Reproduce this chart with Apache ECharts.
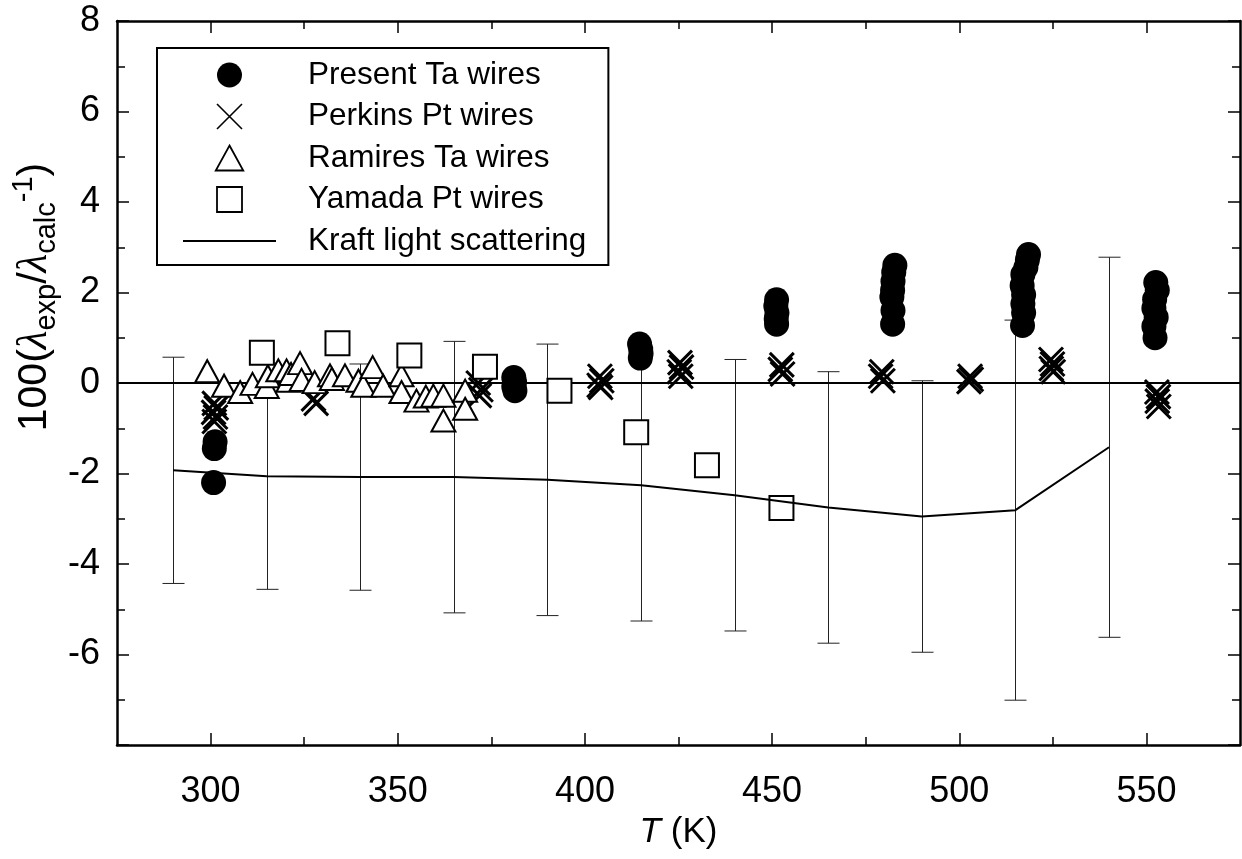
<!DOCTYPE html>
<html>
<head>
<meta charset="utf-8">
<script src="https://cdn.jsdelivr.net/npm/echarts@6/dist/echarts.min.js"></script>
<style>
  html, body { margin: 0; padding: 0; background: #fff; }
  #chart { width: 1242px; height: 859px; }
</style>
</head>
<body>
<div id="chart"></div>
<script>
// Axis ranges and tick positions
const xMin = 275, xMax = 575;
const yMin = -8, yMax = 8;
const xMajorTicks = [300, 350, 400, 450, 500, 550];
const xMinorTicks = [325, 375, 425, 475, 525];
const yLabelValues = [-6, -4, -2, 0, 2, 4, 6, 8];
const zeroLine = [[xMin, 0], [xMax, 0]];

// Present Ta wires: [T (K), deviation %]
const presentTa = [
  [300.8, -2.2], [301.0, -1.45], [301.2, -1.3],
  [381.0, 0.12], [381.2, 0.02], [381.0, -0.08], [381.3, -0.17],
  [414.6, 0.86], [414.9, 0.75], [415.0, 0.65], [414.8, 0.55],
  [451.2, 1.84], [451.0, 1.7], [451.3, 1.55], [451.1, 1.42], [451.2, 1.3],
  [482.8, 2.6], [482.5, 2.45], [482.3, 2.25], [482.2, 2.05], [482.0, 1.9], [482.3, 1.6], [482.2, 1.3],
  [518.5, 2.84], [518.2, 2.72], [517.8, 2.55], [517.0, 2.4], [516.8, 2.15], [517.2, 1.95],
  [517.0, 1.75], [517.2, 1.55], [516.9, 1.27],
  [552.5, 2.22], [552.9, 2.05], [552.2, 1.85], [552.0, 1.65], [552.6, 1.45], [552.0, 1.25], [552.3, 1.0]
];

// Perkins Pt wires
const perkinsPt = [
  [301.0, -0.45], [301.5, -0.55], [300.8, -0.65], [301.3, -0.75], [301.0, -0.85],
  [327.5, -0.35], [328.2, -0.45],
  [371.5, 0.0], [372.2, -0.15], [371.8, -0.28],
  [404.0, 0.15], [404.5, 0.05], [403.8, -0.05], [404.2, -0.1],
  [425.4, 0.45], [425.8, 0.35], [425.2, 0.25], [425.6, 0.15],
  [452.6, 0.4], [452.2, 0.3], [452.8, 0.2],
  [479.3, 0.25], [479.0, 0.15], [479.6, 0.05],
  [502.9, 0.15], [503.2, 0.08], [502.6, 0.03],
  [524.5, 0.52], [524.9, 0.42], [524.6, 0.32], [525.1, 0.25],
  [552.8, -0.2], [553.2, -0.3], [552.9, -0.4], [553.3, -0.52]
];

// Ramires Ta wires
const ramiresTa = [
  [299.1, 0.26], [303.6, -0.06], [307.9, -0.2], [311.2, -0.02], [315.0, -0.09],
  [315.3, 0.15], [318.1, 0.28], [320.3, 0.28], [320.8, 0.05], [321.5, 0.2],
  [323.9, 0.44], [324.3, 0.07], [327.8, 0.02], [331.9, 0.17], [332.4, 0.09],
  [335.9, 0.17], [339.5, 0.05], [340.8, -0.06], [343.3, 0.35], [346.1, -0.06],
  [351.0, 0.17], [351.0, -0.2], [355.0, -0.39], [357.5, -0.3], [359.5, -0.28],
  [362.2, -0.28], [362.2, -0.83], [368.0, -0.17], [368.0, -0.57]
];

// Yamada Pt wires
const yamadaPt = [
  [313.7, 0.67], [333.9, 0.88], [353.1, 0.61], [373.3, 0.36],
  [393.2, -0.17], [413.7, -1.09], [432.6, -1.82], [452.5, -2.76]
];

// Kraft light scattering: temperatures, deviation and uncertainty half-width
const kraftT = [290, 315, 340, 365, 390, 415, 440, 465, 490, 515, 540];
const kraftV = [-1.93, -2.06, -2.08, -2.08, -2.14, -2.26, -2.48, -2.75, -2.95, -2.81, -1.42];
const kraftErr = [2.5, 2.5, 2.5, 3.0, 3.0, 3.0, 3.0, 3.0, 3.0, 4.2, 4.2];

const FONT = '"Liberation Sans", Arial, Helvetica, sans-serif';
const SERIF = '"Liberation Serif", "DejaVu Serif", serif';
const BLACK = '#000';
// Marker outlines
const CROSS = 'path://M0,0L20,20M20,0L0,20';
const TRIANGLE = 'path://M11,0L22,20L0,20Z';
const SQUARE = 'path://M0,0L20,0L20,20L0,20Z';

const axisLine = { show: true, onZero: false, lineStyle: { color: BLACK, width: 2.5 } };
const tickLine = { color: BLACK, width: 1.5 };

function xAxisDef(position, ticks, len, showLine, withLabels) {
  const ax = {
    type: 'value', min: xMin, max: xMax, position: position,
    axisLine: showLine ? axisLine : { show: false, onZero: false },
    axisTick: { show: true, inside: true, length: len, customValues: ticks, lineStyle: tickLine },
    axisLabel: withLabels
      ? { show: true, customValues: ticks, margin: 29, fontSize: 36, color: BLACK, fontFamily: FONT }
      : { show: false },
    splitLine: { show: false }
  };
  if (withLabels) {
    ax.name = '{it|T} (K)';
    ax.nameLocation = 'middle';
    ax.nameGap = 66;
    ax.nameTextStyle = {
      fontSize: 35, color: BLACK, fontFamily: FONT,
      rich: { it: { fontSize: 35, fontStyle: 'italic', color: BLACK, fontFamily: FONT } }
    };
  }
  return ax;
}

function yAxisDef(position, withLabels) {
  return {
    type: 'value', min: yMin, max: yMax, interval: 2, position: position,
    axisLine: axisLine,
    axisTick: { show: true, inside: true, length: 12, lineStyle: tickLine },
    minorTick: { show: true, splitNumber: 2, length: 8, lineStyle: tickLine },
    axisLabel: withLabels
      ? { show: true, customValues: yLabelValues, margin: 17, fontSize: 36, color: BLACK, fontFamily: FONT }
      : { show: false },
    splitLine: { show: false },
    minorSplitLine: { show: false }
  };
}

const chart = echarts.init(document.getElementById('chart'), null, { renderer: 'canvas' });

chart.setOption({
  backgroundColor: '#fff',
  animation: false,
  grid: { left: 117, top: 21, width: 1123, height: 724, containLabel: false },
  xAxis: [
    xAxisDef('bottom', xMajorTicks, 12, true, true),
    xAxisDef('bottom', xMinorTicks, 8, false, false),
    xAxisDef('top', xMajorTicks, 12, true, false),
    xAxisDef('top', xMinorTicks, 8, false, false)
  ],
  yAxis: [
    yAxisDef('left', true),
    yAxisDef('right', false)
  ],
  // Y-axis title, rotated to read bottom to top
  graphic: [{
    type: 'text',
    x: 35, y: 297,
    rotation: Math.PI / 2,
    silent: true,
    style: {
      text: '100({l|λ}{sub|exp}/{l|λ}{sub|calc}{sup|-1})',
      align: 'center',
      verticalAlign: 'middle',
      fill: BLACK,
      fontSize: 41,
      fontFamily: FONT,
      lineHeight: 52,
      rich: {
        l: { fontSize: 43, fontFamily: SERIF, fontStyle: 'italic', fill: BLACK, lineHeight: 52, verticalAlign: 'middle' },
        sub: { fontSize: 29, fontFamily: FONT, fill: BLACK, lineHeight: 29, verticalAlign: 'bottom' },
        sup: { fontSize: 29, fontFamily: FONT, fill: BLACK, lineHeight: 29, verticalAlign: 'top' }
      }
    }
  }],
  legend: {
    orient: 'vertical',
    left: 157, top: 48,
    padding: [11, 22, 8, 25],
    borderColor: BLACK, borderWidth: 2,
    backgroundColor: '#fff',
    itemWidth: 93, itemHeight: 25, itemGap: 9.5,
    selectedMode: false,
    textStyle: { fontSize: 31.5, lineHeight: 31, color: BLACK, fontFamily: FONT, padding: [0, 0, 0, 27] },
    data: [
      { name: 'Present Ta wires' },
      { name: 'Perkins Pt wires', itemStyle: { borderWidth: 1.6 } },
      { name: 'Ramires Ta wires', itemStyle: { borderWidth: 1.8 } },
      { name: 'Yamada Pt wires', itemStyle: { borderWidth: 1.8 } },
      { name: 'Kraft light scattering', itemStyle: { color: 'rgba(0,0,0,0)', borderWidth: 0 }, lineStyle: { color: BLACK, width: 2 } }
    ]
  },
  series: [
    {
      name: 'Kraft uncertainty',
      type: 'custom',
      z: 1,
      silent: true,
      data: kraftT.map((t, i) => [t, kraftV[i] - kraftErr[i], kraftV[i] + kraftErr[i]]),
      encode: { x: 0, y: [1, 2] },
      renderItem: function (params, api) {
        const t = api.value(0);
        const lo = api.coord([t, api.value(1)]);
        const hi = api.coord([t, api.value(2)]);
        const cap = 11;
        const x = Math.round(lo[0]) + 0.5;
        const style = { stroke: '#222', lineWidth: 1 };
        return {
          type: 'group',
          children: [
            { type: 'line', shape: { x1: x, y1: lo[1], x2: x, y2: hi[1] }, style: style },
            { type: 'line', shape: { x1: x - cap, y1: lo[1], x2: x + cap, y2: lo[1] }, style: style },
            { type: 'line', shape: { x1: x - cap, y1: hi[1], x2: x + cap, y2: hi[1] }, style: style }
          ]
        };
      }
    },
    {
      name: 'zero',
      type: 'line',
      z: 2,
      silent: true,
      symbol: 'none',
      data: zeroLine,
      lineStyle: { color: BLACK, width: 2.2 }
    },
    {
      name: 'Perkins Pt wires',
      type: 'scatter',
      z: 3,
      symbol: CROSS,
      symbolSize: 24,
      data: perkinsPt,
      itemStyle: { color: BLACK, borderColor: BLACK, borderWidth: 3, opacity: 1 }
    },
    {
      name: 'Present Ta wires',
      type: 'scatter',
      z: 4,
      symbol: 'circle',
      symbolSize: 25,
      data: presentTa,
      itemStyle: { color: BLACK, opacity: 1 }
    },
    {
      name: 'Ramires Ta wires',
      type: 'scatter',
      z: 5,
      symbol: TRIANGLE,
      symbolSize: [24, 22],
      data: ramiresTa,
      itemStyle: { color: '#fff', borderColor: BLACK, borderWidth: 2, opacity: 1 }
    },
    {
      name: 'Yamada Pt wires',
      type: 'scatter',
      z: 6,
      symbol: SQUARE,
      symbolSize: 24,
      data: yamadaPt,
      itemStyle: { color: '#fff', borderColor: BLACK, borderWidth: 2, opacity: 1 }
    },
    {
      name: 'Kraft light scattering',
      type: 'line',
      z: 7,
      symbol: 'none',
      showSymbol: false,
      data: kraftT.map((t, i) => [t, kraftV[i]]),
      lineStyle: { color: BLACK, width: 2 },
      itemStyle: { color: BLACK }
    }
  ]
});
</script>
</body>
</html>
